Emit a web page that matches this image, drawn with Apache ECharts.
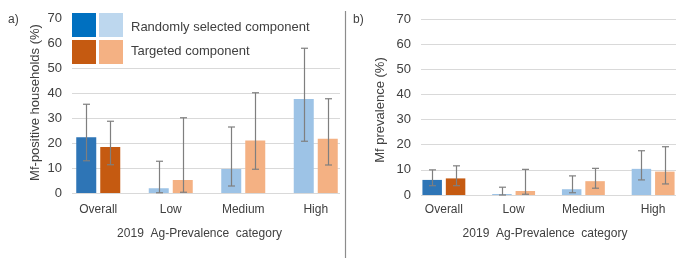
<!DOCTYPE html>
<html>
<head>
<meta charset="utf-8">
<script src="https://cdn.jsdelivr.net/npm/echarts@6/dist/echarts.min.js"></script>
<style>
  html, body { margin: 0; padding: 0; background: #fff; }
  #main { width: 700px; height: 264px; }
</style>
</head>
<body>
<div id="main"></div>
<script>
// categories and tick labels
var categories = ['Overall', 'Low', 'Medium', 'High'];
var yTicks = [0, 10, 20, 30, 40, 50, 60, 70];

// a) Mf-positive households (%)
var hhRandom = [22.3, 1.9, 9.6, 37.6];
var hhRandomLow = [12.9, 0.1, 2.8, 20.7];
var hhRandomHigh = [35.5, 12.7, 26.4, 57.9];
var hhTargeted = [18.4, 5.2, 21.0, 21.7];
var hhTargetedLow = [11.3, 0.3, 9.5, 11.2];
var hhTargetedHigh = [28.7, 30.1, 40.1, 37.7];

// b) Mf prevalence (%)
var mfRandom = [6.0, 0.4, 2.3, 10.4];
var mfRandomLow = [3.7, 0.0, 0.9, 6.0];
var mfRandomHigh = [10.0, 3.1, 7.6, 17.6];
var mfTargeted = [6.6, 1.6, 5.5, 9.3];
var mfTargetedLow = [3.7, 0.3, 2.7, 4.4];
var mfTargetedHigh = [11.6, 10.2, 10.6, 19.2];

var FONT = "'Liberation Sans', Arial, sans-serif";
var TXT = '#404040';
var blueDark = '#2e75b6', blueLight = '#9dc3e6';
var orangeDark = '#c55a11', orangeLight = '#f4b183';

var myChart = echarts.init(document.getElementById('main'), null, { renderer: 'canvas' });

// 误差线
function errorBars(offset) {
    return function (params, api) {
        var i = api.value(0);
        var top = api.coord([i, api.value(2)]);
        var bot = api.coord([i, api.value(1)]);
        var x = Math.round(top[0] + offset) + 0.5;
        var cap = 3.5;
        var st = { stroke: '#7f7f7f', lineWidth: 1.2 };
        return {
            type: 'group',
            children: [
                { type: 'line', shape: { x1: x, y1: top[1], x2: x, y2: bot[1] }, style: st },
                { type: 'line', shape: { x1: x - cap, y1: top[1], x2: x + cap, y2: top[1] }, style: st },
                { type: 'line', shape: { x1: x - cap, y1: bot[1], x2: x + cap, y2: bot[1] }, style: st }
            ]
        };
    };
}

function errData(lo, hi) {
    return categories.map(function (c, i) { return [i, lo[i], hi[i]]; });
}

function barColor(dark, light) {
    return function (p) { return p.dataIndex === 0 ? dark : light; };
}

function gridYAxis(idx) {
    return {
        type: 'value', gridIndex: idx, min: yTicks[0], max: yTicks[yTicks.length - 1], interval: 10,
        axisLine: { show: false }, axisTick: { show: false },
        splitLine: { lineStyle: { color: '#d9d9d9', width: 1 } },
        axisLabel: { color: TXT, fontSize: 13, fontFamily: FONT, margin: 10 }
    };
}
function hiddenYAxis(idx) {
    return { type: 'value', gridIndex: idx, min: 0, max: 70, show: false };
}
function catXAxis(idx, margin) {
    return {
        type: 'category', gridIndex: idx, data: categories,
        axisLine: { show: false }, axisTick: { show: false },
        axisLabel: { color: TXT, fontSize: 12, fontFamily: FONT, margin: margin, interval: 0 }
    };
}

option = {
    backgroundColor: '#fff',
    animation: false,
    grid: [
        { left: 72, width: 268, top: 18, height: 175 },   // a gridlines
        { left: 62, width: 290, top: 18, height: 175 },   // a bars
        { left: 421, width: 255, top: 19, height: 176 },  // b gridlines
        { left: 409, width: 279, top: 19, height: 176 }   // b bars
    ],
    xAxis: [
        { type: 'value', gridIndex: 0, show: false, min: 0, max: 1 },
        catXAxis(1, 11),
        { type: 'value', gridIndex: 2, show: false, min: 0, max: 1 },
        catXAxis(3, 9)
    ],
    yAxis: [gridYAxis(0), hiddenYAxis(1), gridYAxis(2), hiddenYAxis(3)],
    series: [
        {
            name: 'Randomly selected component', type: 'bar', xAxisIndex: 1, yAxisIndex: 1,
            barWidth: 20, barGap: '20%', data: hhRandom,
            itemStyle: { color: barColor(blueDark, blueLight) }
        },
        {
            name: 'Targeted component', type: 'bar', xAxisIndex: 1, yAxisIndex: 1,
            barWidth: 20, barGap: '20%', data: hhTargeted,
            itemStyle: { color: barColor(orangeDark, orangeLight) }
        },
        {
            type: 'custom', xAxisIndex: 1, yAxisIndex: 1, z: 200,
            renderItem: errorBars(-12), data: errData(hhRandomLow, hhRandomHigh),
            encode: { x: 0, y: [1, 2] }
        },
        {
            type: 'custom', xAxisIndex: 1, yAxisIndex: 1, z: 200,
            renderItem: errorBars(12), data: errData(hhTargetedLow, hhTargetedHigh),
            encode: { x: 0, y: [1, 2] }
        },
        {
            name: 'Randomly selected component', type: 'bar', xAxisIndex: 3, yAxisIndex: 3,
            barWidth: 19.5, barGap: '20%', data: mfRandom,
            itemStyle: { color: barColor(blueDark, blueLight) }
        },
        {
            name: 'Targeted component', type: 'bar', xAxisIndex: 3, yAxisIndex: 3,
            barWidth: 19.5, barGap: '20%', data: mfTargeted,
            itemStyle: { color: barColor(orangeDark, orangeLight) }
        },
        {
            type: 'custom', xAxisIndex: 3, yAxisIndex: 3, z: 200,
            renderItem: errorBars(-11.7), data: errData(mfRandomLow, mfRandomHigh),
            encode: { x: 0, y: [1, 2] }
        },
        {
            type: 'custom', xAxisIndex: 3, yAxisIndex: 3, z: 200,
            renderItem: errorBars(11.7), data: errData(mfTargetedLow, mfTargetedHigh),
            encode: { x: 0, y: [1, 2] }
        }
    ],
    graphic: [
        // 图例（白底盖住网格线）
        { type: 'rect', z: 100, shape: { x: 70, y: 9, width: 272, height: 58 }, style: { fill: '#fff' } },
        { type: 'rect', z: 101, shape: { x: 72, y: 13, width: 24, height: 24 }, style: { fill: '#0070c0' } },
        { type: 'rect', z: 101, shape: { x: 99, y: 13, width: 24, height: 24 }, style: { fill: '#bdd7ee' } },
        { type: 'rect', z: 101, shape: { x: 72, y: 40, width: 24, height: 24 }, style: { fill: orangeDark } },
        { type: 'rect', z: 101, shape: { x: 99, y: 40, width: 24, height: 24 }, style: { fill: orangeLight } },
        { type: 'text', z: 101, x: 131, y: 27.5, style: { text: 'Randomly selected component', fill: TXT, font: '13px ' + FONT, verticalAlign: 'middle' } },
        { type: 'text', z: 101, x: 131, y: 51.5, style: { text: 'Targeted component', fill: TXT, font: '13px ' + FONT, verticalAlign: 'middle' } },
        // 面板标签
        { type: 'text', x: 8, y: 20, style: { text: 'a)', fill: TXT, font: '12px ' + FONT, verticalAlign: 'middle' } },
        { type: 'text', x: 353, y: 20, style: { text: 'b)', fill: TXT, font: '12px ' + FONT, verticalAlign: 'middle' } },
        // 轴名称
        { type: 'text', x: 199.5, y: 234, style: { text: '2019  Ag-Prevalence  category', fill: TXT, font: '12px ' + FONT, align: 'center', verticalAlign: 'middle' } },
        { type: 'text', x: 545, y: 234, style: { text: '2019  Ag-Prevalence  category', fill: TXT, font: '12px ' + FONT, align: 'center', verticalAlign: 'middle' } },
        { type: 'text', x: 35, y: 102.5, rotation: Math.PI / 2, style: { text: 'Mf-positive households (%)', fill: TXT, font: '13px ' + FONT, align: 'center', verticalAlign: 'middle' } },
        { type: 'text', x: 380, y: 110, rotation: Math.PI / 2, style: { text: 'Mf prevalence (%)', fill: TXT, font: '13px ' + FONT, align: 'center', verticalAlign: 'middle' } },
        // 分隔线
        { type: 'line', shape: { x1: 345.5, y1: 11, x2: 345.5, y2: 258 }, style: { stroke: '#8c8c8c', lineWidth: 1.2 } }
    ]
};

myChart.setOption(option);
</script>
</body>
</html>
